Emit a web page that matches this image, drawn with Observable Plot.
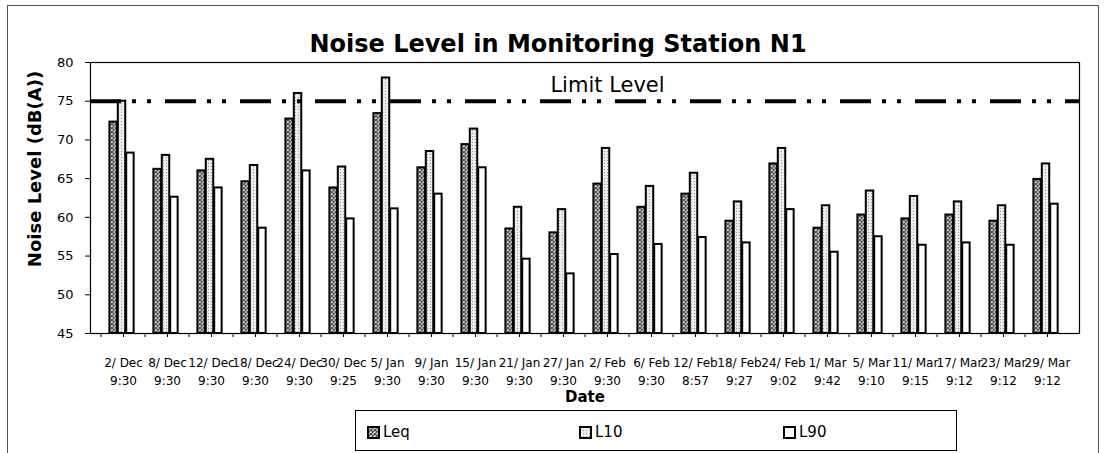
<!DOCTYPE html>
<html>
<head>
<meta charset="utf-8">
<script src="https://cdn.jsdelivr.net/npm/d3@7"></script>
<script src="https://cdn.jsdelivr.net/npm/@observablehq/plot@0.6"></script>
<style>
  html, body { margin: 0; padding: 0; background: #fff; }
  #wrap { position: relative; width: 1104px; height: 453px; overflow: hidden; background: #fff; font-family: "DejaVu Sans", sans-serif; color: #000; }
  #wrap > svg.plot { position: absolute; left: 0; top: 0; }
  .abs { position: absolute; white-space: nowrap; line-height: 1; }
  #border { position: absolute; left: 7px; top: 5px; width: 1092px; height: 470px; border: 1px solid #555; box-sizing: border-box; }
  #title { font-weight: bold; font-size: 24px; top: 32px; left: 558px; transform: translateX(-50%); }
  #ylabel { font-weight: bold; font-size: 18px; left: 35px; top: 169px; transform: translate(-50%, -50%) rotate(-90deg); }
  #xlabel { font-weight: bold; font-size: 15px; left: 585px; top: 390px; transform: translateX(-50%); }
  #legend { position: absolute; left: 355px; top: 410px; width: 602px; height: 41px; border: 1px solid #000; box-sizing: border-box; background: #fff; }
  .item { position: absolute; top: 12px; font-size: 15px; display: flex; align-items: center; }
  .item svg { margin-right: 3px; }
</style>
</head>
<body>
<svg width="0" height="0" style="position:absolute">
  <defs>
    <pattern id="pat-leq" width="4" height="4" patternUnits="userSpaceOnUse">
      <rect width="4" height="4" fill="#e0e0e0"></rect>
      <path d="M0,0 L4,4 M4,0 L0,4" stroke="#4a4a4a" stroke-width="1.2"></path>
    </pattern>
    <pattern id="pat-l10" width="3" height="3" patternUnits="userSpaceOnUse">
      <rect width="3" height="3" fill="#ececec"></rect>
      <rect x="1" y="1" width="1" height="1" fill="#999"></rect>
    </pattern>
  </defs>
</svg>
<div id="wrap">
  <div id="border"></div>
</div>
<script>
// ---- data ----
const dates = ["2/ Dec","8/ Dec","12/ Dec","18/ Dec","24/ Dec","30/ Dec","5/ Jan","9/ Jan","15/ Jan","21/ Jan","27/ Jan","2/ Feb","6/ Feb","12/ Feb","18/ Feb","24/ Feb","1/ Mar","5/ Mar","11/ Mar","17/ Mar","23/ Mar","29/ Mar"];
const times = ["9:30","9:30","9:30","9:30","9:30","9:25","9:30","9:30","9:30","9:30","9:30","9:30","9:30","8:57","9:27","9:02","9:42","9:10","9:15","9:12","9:12","9:12"];
const series = ["Leq", "L10", "L90"];
const leq = [72.3, 66.2, 66.0, 64.6, 72.7, 63.8, 73.4, 66.4, 69.4, 58.5, 58.0, 64.3, 61.3, 63.0, 59.5, 66.9, 58.6, 60.3, 59.8, 60.3, 59.5, 64.9];
const l10 = [75.0, 68.0, 67.5, 66.7, 76.0, 66.5, 78.0, 68.5, 71.4, 61.3, 61.0, 68.9, 64.0, 65.7, 62.0, 68.9, 61.5, 63.4, 62.7, 62.0, 61.5, 66.9];
const l90 = [68.3, 62.6, 63.8, 58.6, 66.0, 59.8, 61.1, 63.0, 66.4, 54.6, 52.7, 55.2, 56.5, 57.4, 56.7, 61.0, 55.5, 57.5, 56.4, 56.7, 56.4, 61.7];
const limitLevel = 75;
const limitLabel = "Limit Level";
const yTicks = [45, 50, 55, 60, 65, 70, 75, 80];

// ---- table ----
const valuesBySeries = {Leq: leq, L10: l10, L90: l90};
const rows = [];
series.forEach(s => dates.forEach((d, i) => rows.push({date: d, time: times[i], series: s, value: valuesBySeries[s][i]})));

// ---- layout / styles ----
const W = 1104, H = 453, mL = 90, mR = 25, mT = 62, mB = 120;
const step = (W - mL - mR) / dates.length;
const barW = 8.4, groupOffset = 8.4;
const fills = {Leq: "url(#pat-leq)", L10: "url(#pat-l10)", L90: "white"};

const barMarks = series.map((s, k) => Plot.barY(rows.filter(r => r.series === s), {
  x: "date", y: "value",
  insetLeft: groupOffset + k * barW,
  insetRight: step - (groupOffset + (k + 1) * barW),
  fill: fills[s], stroke: "black", strokeWidth: 2
}));

const chart = Plot.plot({
  width: W, height: H,
  marginLeft: mL, marginRight: mR, marginTop: mT, marginBottom: mB,
  style: {fontFamily: "DejaVu Sans, sans-serif", fontSize: "13px", color: "black", background: "transparent"},
  x: {domain: dates, padding: 0, axis: null},
  y: {domain: [45, 80], clamp: true, axis: null},
  marks: [
    ...barMarks,
    Plot.ruleY([limitLevel], {stroke: "black", strokeWidth: 4, strokeDasharray: "31,11,4,11,4,14"}),
    Plot.text([limitLabel], {x: () => dates[11], y: () => limitLevel, text: d => d, dy: -16, fontSize: 21, fill: "black"}),
    Plot.frame({stroke: "black", strokeWidth: 1.2}),
    Plot.axisY({ticks: yTicks, tickSize: 5, tickPadding: 12, fontSize: 13, tickFormat: d => String(d), label: null}),
    Plot.ruleX(dates, {x: d => d, y1: 45, y2: 45, insetBottom: -4, stroke: "black"}),
    Plot.ruleX(dates, {x: d => d, y1: 45, y2: 45, insetBottom: -4, dx: -step / 2, stroke: "black"}),
    Plot.text(dates, {x: d => d, frameAnchor: "bottom", lineAnchor: "top", dy: 20.5, lineHeight: 1.5,
      text: (d, i) => d + "\n" + times[i], fontSize: 12, fill: "black"})
  ]
});
chart.classList.add("plot");
const wrap = document.getElementById("wrap");
wrap.appendChild(chart);

function addDiv(id, text) {
  const el = document.createElement("div");
  el.id = id; el.className = "abs"; el.textContent = text;
  wrap.appendChild(el);
  return el;
}
addDiv("title", "Noise Level in Monitoring Station N1");
addDiv("ylabel", "Noise Level (dB(A))");
addDiv("xlabel", "Date");

// legend
const legend = document.createElement("div");
legend.id = "legend";
const itemX = [11, 223, 427];
series.forEach((s, k) => {
  const it = document.createElement("div");
  it.className = "item";
  it.style.left = itemX[k] + "px";
  it.innerHTML = `<svg width="13" height="13"><rect x="1" y="1" width="11" height="11" fill="${fills[s]}" stroke="black" stroke-width="2"></rect></svg><span>${s}</span>`;
  legend.appendChild(it);
});
wrap.appendChild(legend);
</script>
</body>
</html>
